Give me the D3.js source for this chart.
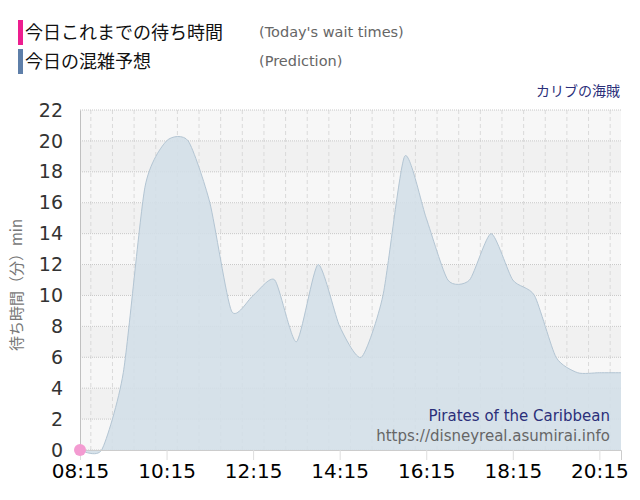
<!DOCTYPE html>
<html>
<head>
<meta charset="utf-8">
<script src="https://cdn.jsdelivr.net/npm/d3@7"></script>
<style>
  body { margin: 0; background: #fff; }
  svg { display: block; }
</style>
</head>
<body>
<svg id="chart" width="640" height="500"></svg>
<script>
// data
const times = ["08:15","08:45","09:15","09:45","10:15","10:45","11:15","11:45","12:15","12:45",
  "13:15","13:45","14:15","14:45","15:15","15:45","16:15","16:45","17:15","17:45",
  "18:15","18:45","19:15","19:45","20:15","20:45"];
const prediction = [0,0,5,17,20,20,16,9,10,11,7,12,8,6,10,19,15,11,11,14,11,10,6,5,5,5];
const todayTimes = ["08:15"];
const todayWaits = [0];
const xTickLabels = ["08:15","10:15","12:15","14:15","16:15","18:15","20:15"];
const yTicks = [0,2,4,6,8,10,12,14,16,18,20,22];

const parseT = d3.timeParse("%H:%M");
const fmt = d3.timeFormat("%H:%M");
const jp = "'Noto Sans CJK JP', sans-serif";
const lat = "'DejaVu Sans', Verdana, sans-serif";

const svg = d3.select("#chart");
const margin = {left: 80, right: 19, top: 110, bottom: 50};
const W = 640, H = 500;

const x = d3.scaleTime()
  .domain([parseT("08:15"), parseT("20:45")])
  .range([margin.left, W - margin.right]);
const y = d3.scaleLinear()
  .domain([0, 22])
  .range([H - margin.bottom, margin.top]);

// background bands
const plot = svg.append("g");
d3.range(0, 22, 2).forEach((v, i) => {
  plot.append("rect")
    .attr("x", x.range()[0])
    .attr("width", x.range()[1] - x.range()[0])
    .attr("y", y(v + 2))
    .attr("height", y(v) - y(v + 2))
    .attr("fill", i % 2 === 0 ? "#f7f7f7" : "#f1f1f1");
});

// vertical grid every 30 min
const halfHours = d3.timeMinute.every(30).range(parseT("08:15"), d3.timeMinute.offset(parseT("20:45"), 1));
plot.selectAll("line.vg")
  .data(halfHours)
  .enter().append("line")
  .attr("class", "vg")
  .attr("x1", d => x(d)).attr("x2", d => x(d))
  .attr("y1", y(22)).attr("y2", y(0))
  .attr("stroke", "#dadada")
  .attr("stroke-dasharray", "4,3");

// horizontal grid
plot.selectAll("line.hg")
  .data(yTicks)
  .enter().append("line")
  .attr("class", "hg")
  .attr("x1", x.range()[0]).attr("x2", x.range()[1])
  .attr("y1", d => y(d)).attr("y2", d => y(d))
  .attr("stroke", "#c8c8c8")
  .attr("stroke-dasharray", "1,1");

// prediction area
const predData = times.map((t, i) => ({t: parseT(t), v: prediction[i]}));
const curve = d3.curveCardinal.tension(0.35);
const area = d3.area()
  .x(d => x(d.t))
  .y0(y(0))
  .y1(d => y(d.v))
  .curve(curve);
const line = d3.line()
  .x(d => x(d.t))
  .y(d => y(d.v))
  .curve(curve);

svg.append("path")
  .datum(predData)
  .attr("d", area)
  .attr("fill", "#d3dfe8")
  .attr("fill-opacity", 0.9);
svg.append("path")
  .datum(predData)
  .attr("d", line)
  .attr("fill", "none")
  .attr("stroke", "#b3c5d3")
  .attr("stroke-width", 1);

// axes
const xAxis = d3.axisBottom(x)
  .tickValues(xTickLabels.map(parseT))
  .tickFormat(fmt)
  .tickSize(10);
const gx = svg.append("g")
  .attr("transform", `translate(0,${y(0)})`)
  .call(xAxis);
gx.select(".domain").attr("stroke", "#cccccc");
gx.selectAll(".tick line").attr("stroke", "#dddddd");
gx.selectAll(".tick text")
  .attr("font-family", lat)
  .attr("font-size", 20)
  .attr("fill", "#000")
  .attr("dy", "0.72em")
  .attr("y", 14);

const yAxis = d3.axisLeft(y).tickValues(yTicks).tickSize(0).tickPadding(17);
const gy = svg.append("g")
  .attr("transform", `translate(${margin.left},0)`)
  .call(yAxis);
gy.select(".domain").attr("stroke", "#c0c0c0");
gy.selectAll(".tick text")
  .attr("font-family", lat)
  .attr("font-size", 19)
  .attr("fill", "#333");

// today's wait times (single point)
svg.selectAll("circle.today")
  .data(todayTimes.map((t, i) => ({t: parseT(t), v: todayWaits[i]})))
  .enter().append("circle")
  .attr("class", "today")
  .attr("cx", d => x(d.t))
  .attr("cy", d => y(d.v))
  .attr("r", 6)
  .attr("fill", "#f39bd1");

// y title
svg.append("text")
  .attr("transform", `translate(22,${(y(0) + y(22)) / 2 + 5}) rotate(-90)`)
  .attr("text-anchor", "middle")
  .attr("font-family", jp)
  .attr("font-size", 15)
  .attr("fill", "#777")
  .text("待ち時間（分）min");

// legend
const legend = [
  {color: "#ed1e8f", label: "今日これまでの待ち時間", sub: "(Today's wait times)"},
  {color: "#5e7fa9", label: "今日の混雑予想", sub: "(Prediction)"}
];
legend.forEach((d, i) => {
  const g = svg.append("g").attr("transform", `translate(0,${20 + i * 29})`);
  g.append("rect").attr("x", 18).attr("y", 0).attr("width", 5).attr("height", 25).attr("fill", d.color);
  g.append("text").attr("x", 25).attr("y", 19)
    .attr("font-family", jp).attr("font-size", 18).attr("fill", "#111").text(d.label);
  g.append("text").attr("x", 259).attr("y", 17)
    .attr("font-family", lat).attr("font-size", 14.5).attr("fill", "#666").text(d.sub);
});

svg.append("text")
  .attr("x", 620).attr("y", 96)
  .attr("text-anchor", "end")
  .attr("font-family", jp).attr("font-size", 14).attr("fill", "#2b2f7a")
  .text("カリブの海賊");

svg.append("text")
  .attr("x", 610).attr("y", 421)
  .attr("text-anchor", "end")
  .attr("font-family", lat).attr("font-size", 15).attr("fill", "#2b2f7a")
  .text("Pirates of the Caribbean");
svg.append("text")
  .attr("x", 610).attr("y", 441)
  .attr("text-anchor", "end")
  .attr("font-family", lat).attr("font-size", 15).attr("fill", "#666")
  .text("https://disneyreal.asumirai.info");
</script>
</body>
</html>
